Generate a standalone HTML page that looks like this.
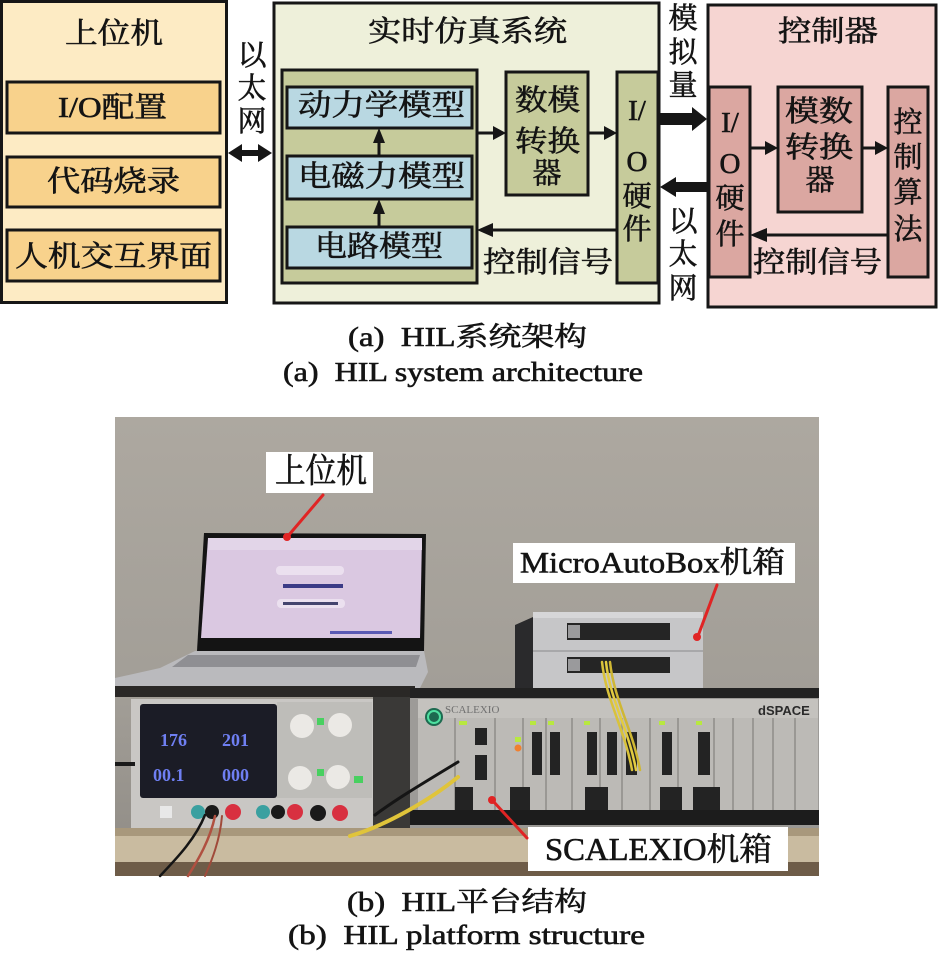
<!DOCTYPE html>
<html><head><meta charset="utf-8"><style>
html,body{margin:0;padding:0;background:#fff;}
svg{display:block;}
text{font-family:"Liberation Serif","Noto Serif CJK SC",serif;fill:#141414;stroke:#141414;stroke-width:0.6px;}
</style></head><body>
<svg width="938" height="960" viewBox="0 0 938 960" xmlns="http://www.w3.org/2000/svg">
<defs>
<linearGradient id="wall" x1="0" y1="0" x2="0" y2="1">
<stop offset="0" stop-color="#ada8a0"/><stop offset="0.6" stop-color="#a29e97"/><stop offset="1" stop-color="#8f8b85"/>
</linearGradient>
</defs>
<rect width="938" height="960" fill="#fff"/>

<!-- ===== LEFT PANEL ===== -->
<g stroke="#161616" stroke-width="3">
<rect x="1.5" y="1.5" width="225" height="301" fill="#fdebc4"/>
<rect x="7" y="82" width="213" height="51" fill="#f8d28c"/>
<rect x="7" y="157" width="213" height="50" fill="#f8d28c"/>
<rect x="7" y="230" width="213" height="51" fill="#f8d28c"/>
</g>
<g font-size="29" dominant-baseline="central">
<text x="65" y="34" textLength="98" lengthAdjust="spacingAndGlyphs">上位机</text>
<text x="58" y="108" textLength="109" lengthAdjust="spacingAndGlyphs">I/O配置</text>
<text x="47" y="182" textLength="133" lengthAdjust="spacingAndGlyphs">代码烧录</text>
<text x="15" y="257" textLength="197" lengthAdjust="spacingAndGlyphs">人机交互界面</text>
</g>
<g font-size="29" text-anchor="middle" dominant-baseline="central">
<text x="252" y="56">以</text><text x="252" y="89">太</text><text x="252" y="122">网</text>
</g>
<polygon points="228,153 242,144 242,150 258,150 258,144 272,153 258,162 258,156 242,156 242,162" fill="#161616"/>

<!-- ===== MIDDLE PANEL ===== -->
<g stroke="#161616" stroke-width="3">
<rect x="274" y="3" width="385" height="300" fill="#eef0da"/>
<rect x="282" y="70" width="195" height="213" fill="#c6cb9b"/>
<rect x="287" y="87" width="185" height="41" fill="#b9d8e2"/>
<rect x="287" y="156" width="185" height="43" fill="#b9d8e2"/>
<rect x="287" y="227" width="185" height="41" fill="#b9d8e2"/>
<rect x="506" y="72" width="82" height="123" fill="#c6cb9b"/>
<rect x="617" y="72" width="41" height="211" fill="#c6cb9b"/>
</g>
<g font-size="29" dominant-baseline="central">
<text x="368" y="32" textLength="199" lengthAdjust="spacingAndGlyphs">实时仿真系统</text>
<text x="298" y="106" textLength="167" lengthAdjust="spacingAndGlyphs">动力学模型</text>
<text x="298" y="177" textLength="167" lengthAdjust="spacingAndGlyphs">电磁力模型</text>
<text x="315" y="247" textLength="128" lengthAdjust="spacingAndGlyphs">电路模型</text>
<text x="483" y="263" textLength="130" lengthAdjust="spacingAndGlyphs">控制信号</text>
<text x="515" y="101" textLength="65" lengthAdjust="spacingAndGlyphs">数模</text>
<text x="515" y="142" textLength="65" lengthAdjust="spacingAndGlyphs">转换</text>
</g>
<g font-size="29" text-anchor="middle" dominant-baseline="central">
<text x="547" y="174">器</text>
<text x="637" y="111">I/</text>
<text x="637" y="162">O</text>
<text x="637" y="197">硬</text>
<text x="637" y="230">件</text>
</g>
<g stroke="#161616" stroke-width="3">
<line x1="477" y1="133" x2="494" y2="133"/>
<line x1="588" y1="133" x2="605" y2="133"/>
<line x1="379" y1="142" x2="379" y2="156"/>
<line x1="379" y1="213" x2="379" y2="227"/>
<line x1="617" y1="230" x2="491" y2="230"/>
</g>
<g fill="#161616">
<polygon points="493,126 506,133 493,140"/>
<polygon points="604,126 617,133 604,140"/>
<polygon points="373,143 379,128 385,143"/>
<polygon points="373,214 379,199 385,214"/>
<polygon points="493,223 477,230 493,237"/>
</g>

<!-- connectors between middle and right -->
<polygon points="660,113 692,113 692,107 707,119 692,131 692,125 660,125" fill="#161616"/>
<polygon points="660,187 676,177 676,182 707,182 707,192 676,192 676,197" fill="#161616"/>
<g font-size="29" text-anchor="middle" dominant-baseline="central">
<text x="683" y="19">模</text><text x="683" y="53">拟</text><text x="683" y="86">量</text>
<text x="683" y="222">以</text><text x="683" y="255">太</text><text x="683" y="289">网</text>
</g>

<!-- ===== RIGHT PANEL ===== -->
<g stroke="#161616" stroke-width="3">
<rect x="708" y="5" width="228" height="302" fill="#f6d5d2"/>
<rect x="709" y="87" width="41" height="190" fill="#dba7a1"/>
<rect x="778" y="87" width="84" height="125" fill="#dba7a1"/>
<rect x="888" y="87" width="40" height="190" fill="#dba7a1"/>
</g>
<g font-size="29" dominant-baseline="central">
<text x="778" y="32" textLength="100" lengthAdjust="spacingAndGlyphs">控制器</text>
<text x="753" y="263" textLength="129" lengthAdjust="spacingAndGlyphs">控制信号</text>
<text x="785" y="112" textLength="68" lengthAdjust="spacingAndGlyphs">模数</text>
<text x="785" y="148" textLength="68" lengthAdjust="spacingAndGlyphs">转换</text>
</g>
<g font-size="29" text-anchor="middle" dominant-baseline="central">
<text x="820" y="181">器</text>
<text x="730" y="123">I/</text>
<text x="730" y="164">O</text>
<text x="730" y="199">硬</text>
<text x="730" y="235">件</text>
<text x="908" y="123">控</text>
<text x="908" y="158">制</text>
<text x="908" y="193">算</text>
<text x="908" y="230">法</text>
</g>
<g stroke="#161616" stroke-width="3">
<line x1="750" y1="148" x2="765" y2="148"/>
<line x1="862" y1="148" x2="875" y2="148"/>
<line x1="888" y1="235" x2="766" y2="235"/>
</g>
<g fill="#161616">
<polygon points="765,141 778,148 765,155"/>
<polygon points="875,141 888,148 875,155"/>
<polygon points="767,228 750,235 767,242"/>
</g>

<!-- captions (a) -->
<g font-size="27" dominant-baseline="central">
<text x="348" y="337" textLength="239" lengthAdjust="spacingAndGlyphs">(a)&#160; HIL系统架构</text>
<text x="283" y="372" textLength="360" lengthAdjust="spacingAndGlyphs">(a)&#160; HIL system architecture</text>
</g>

<!-- ===== PHOTO ===== -->
<rect x="115" y="417" width="704" height="459" fill="url(#wall)"/>
<!-- laptop -->
<polygon points="204,533 426,534 424,651 197,651" fill="#141414"/>
<polygon points="208,538 422,538 420,638 201,638" fill="#dac8e1"/>
<rect x="208" y="538" width="214" height="12" fill="#e2d5e8"/>
<rect x="276" y="566" width="68" height="9" rx="4" fill="#ebe0ef"/>
<rect x="283" y="584" width="60" height="4" fill="#3b3b86"/>
<rect x="277" y="599" width="68" height="9" rx="4" fill="#ebe0ef"/>
<rect x="283" y="602" width="55" height="3" fill="#44446e"/>
<rect x="330" y="631" width="62" height="3" fill="#5a5ab4"/>
<polygon points="195,651 424,651 428,672 420,688 115,688 115,678 160,668" fill="#bababd"/>
<polygon points="188,655 420,655 416,667 172,667" fill="#8f8f93"/>
<rect x="115" y="686" width="300" height="11" fill="#2a2826"/>
<!-- power supply -->
<rect x="131" y="699" width="243" height="131" fill="#c9c7c4"/>
<rect x="140" y="704" width="137" height="94" rx="3" fill="#1b1c26"/>
<g font-family="Liberation Mono,monospace" font-size="18" font-weight="bold">
<text x="160" y="746" style="fill:#6f7ff2;stroke:none">176</text>
<text x="222" y="746" style="fill:#6f7ff2;stroke:none">201</text>
<text x="153" y="781" style="fill:#6f7ff2;stroke:none">00.1</text>
<text x="222" y="781" style="fill:#6f7ff2;stroke:none">000</text>
</g>
<rect x="277" y="702" width="95" height="96" fill="#bebdb9"/>
<circle cx="302" cy="726" r="12" fill="#ebe9e5"/>
<circle cx="340" cy="725" r="12" fill="#ebe9e5"/>
<circle cx="300" cy="778" r="12" fill="#ebe9e5"/>
<circle cx="338" cy="777" r="12" fill="#ebe9e5"/>
<rect x="317" y="718" width="7" height="7" fill="#48d060"/>
<rect x="317" y="769" width="7" height="7" fill="#48d060"/>
<rect x="354" y="776" width="9" height="7" fill="#48d060"/>
<circle cx="198" cy="812" r="7" fill="#3aa0a0"/><circle cx="212" cy="812" r="7" fill="#1a1a1a"/><circle cx="233" cy="812" r="8" fill="#d83040"/>
<circle cx="263" cy="812" r="7" fill="#3aa0a0"/><circle cx="278" cy="812" r="7" fill="#1a1a1a"/><circle cx="295" cy="812" r="8" fill="#d83040"/>
<circle cx="318" cy="813" r="8" fill="#1a1a1a"/><circle cx="340" cy="813" r="8" fill="#d83040"/>
<rect x="160" y="806" width="12" height="12" fill="#e8e8e8"/>
<rect x="373" y="697" width="40" height="133" fill="#3a3937"/>
<rect x="115" y="762" width="20" height="4" fill="#1a1a1a"/>
<!-- micro autobox -->
<polygon points="515,625 533,617 533,688 515,688" fill="#2a2a2c"/>
<rect x="533" y="615" width="170" height="73" fill="#c6c6c8"/>
<rect x="533" y="612" width="170" height="6" fill="#d6d6d8"/>
<rect x="533" y="650" width="170" height="2" fill="#a8a8aa"/>
<rect x="567" y="623" width="103" height="17" fill="#252525"/>
<rect x="567" y="657" width="103" height="16" fill="#252525"/>
<rect x="568" y="625" width="12" height="13" fill="#9a9a9c"/>
<rect x="568" y="659" width="12" height="12" fill="#9a9a9c"/>
<!-- rack -->
<rect x="410" y="688" width="409" height="147" fill="#9d9b98"/>
<rect x="410" y="688" width="409" height="10" fill="#222"/>
<rect x="418" y="699" width="400" height="112" fill="#bcbab6"/>
<rect x="418" y="699" width="400" height="19" fill="#c4c2be"/>
<text x="445" y="713" font-size="11" style="fill:#707070;stroke:none">SCALEXIO</text>
<text x="758" y="715" font-size="13" font-weight="bold" style="fill:#2a2a2a;stroke:none;font-family:'Liberation Sans',sans-serif">dSPACE</text>
<circle cx="434" cy="717" r="9" fill="#1d6a50"/><circle cx="434" cy="717" r="6" fill="none" stroke="#4ee0a0" stroke-width="2"/>
<g stroke="#8e8c88" stroke-width="1.5">
<line x1="455" y1="718" x2="455" y2="810"/><line x1="495" y1="718" x2="495" y2="810"/><line x1="523" y1="718" x2="523" y2="810"/>
<line x1="546" y1="718" x2="546" y2="810"/><line x1="572" y1="718" x2="572" y2="810"/><line x1="600" y1="718" x2="600" y2="810"/>
<line x1="622" y1="718" x2="622" y2="810"/><line x1="650" y1="718" x2="650" y2="810"/><line x1="678" y1="718" x2="678" y2="810"/>
<line x1="714" y1="718" x2="714" y2="810"/><line x1="733" y1="718" x2="733" y2="810"/><line x1="753" y1="718" x2="753" y2="810"/>
<line x1="773" y1="718" x2="773" y2="810"/><line x1="795" y1="718" x2="795" y2="810"/>
</g>
<g fill="#232323">
<rect x="475" y="728" width="12" height="17"/><rect x="475" y="755" width="12" height="25"/>
<rect x="532" y="732" width="10" height="43"/><rect x="550" y="732" width="10" height="43"/>
<rect x="587" y="732" width="10" height="43"/><rect x="607" y="732" width="10" height="43"/>
<rect x="626" y="732" width="11" height="43"/><rect x="662" y="732" width="10" height="43"/>
<rect x="698" y="732" width="12" height="43"/>
<rect x="455" y="787" width="18" height="24"/><rect x="510" y="787" width="20" height="24"/>
<rect x="585" y="787" width="23" height="24"/><rect x="660" y="787" width="22" height="24"/>
<rect x="693" y="787" width="27" height="24"/>
</g>
<g fill="#b8e840">
<rect x="459" y="721" width="8" height="4"/><rect x="530" y="721" width="6" height="4"/><rect x="548" y="721" width="6" height="4"/>
<rect x="584" y="721" width="6" height="4"/><rect x="659" y="721" width="6" height="4"/><rect x="696" y="721" width="6" height="4"/>
<rect x="515" y="737" width="6" height="5"/>
</g>
<circle cx="518" cy="748" r="3.5" fill="#f08030"/>
<rect x="410" y="810" width="409" height="16" fill="#1c1c1c"/>
<rect x="410" y="825" width="409" height="3" fill="#9a9894"/>
<!-- shelf -->
<rect x="115" y="828" width="704" height="8" fill="#a8987c"/>
<rect x="115" y="836" width="704" height="26" fill="#c9bba0"/>
<rect x="115" y="862" width="704" height="14" fill="#6e5c48"/>
<!-- cables -->
<g fill="none" stroke-linecap="round">
<path d="M602,662 C606,700 625,730 632,770" stroke="#d9c23a" stroke-width="2.5"/>
<path d="M606,662 C610,700 629,730 636,770" stroke="#e3cc40" stroke-width="2.5"/>
<path d="M610,662 C614,700 633,730 640,770" stroke="#cfb733" stroke-width="2.5"/>
<path d="M458,777 C430,800 385,826 350,836" stroke="#e0c43a" stroke-width="4"/>
<path d="M458,762 C420,785 395,800 375,815" stroke="#151515" stroke-width="3"/>
<path d="M205,815 C195,840 175,860 160,876" stroke="#151515" stroke-width="2.5"/>
<path d="M215,816 C210,840 198,860 188,876" stroke="#b05040" stroke-width="2.5"/>
<path d="M222,816 C220,840 212,860 205,876" stroke="#a04a3a" stroke-width="2"/>
</g>
<!-- labels in photo -->
<rect x="266" y="452" width="107" height="41" fill="#fff"/>
<text x="275" y="472" font-size="34" dominant-baseline="central" textLength="92" lengthAdjust="spacingAndGlyphs">上位机</text>
<rect x="513" y="543" width="282" height="40" fill="#fff"/>
<text x="520" y="563" font-size="30" dominant-baseline="central" textLength="265" lengthAdjust="spacingAndGlyphs">MicroAutoBox机箱</text>
<rect x="528" y="827" width="260" height="44" fill="#fff"/>
<text x="545" y="849" font-size="32" dominant-baseline="central" textLength="227" lengthAdjust="spacingAndGlyphs">SCALEXIO机箱</text>
<g stroke="#e02424" stroke-width="3" stroke-linecap="round">
<line x1="323" y1="495" x2="288" y2="536"/>
<line x1="717" y1="585" x2="698" y2="636"/>
<line x1="527" y1="838" x2="493" y2="801"/>
</g>
<g fill="#e02424">
<circle cx="287" cy="537" r="4"/><circle cx="697" cy="637" r="4"/><circle cx="492" cy="800" r="4"/>
</g>

<!-- captions (b) -->
<g font-size="27" dominant-baseline="central">
<text x="347" y="902" textLength="240" lengthAdjust="spacingAndGlyphs">(b)&#160; HIL平台结构</text>
<text x="288" y="935" textLength="357" lengthAdjust="spacingAndGlyphs">(b)&#160; HIL platform structure</text>
</g>
</svg>
</body></html>
